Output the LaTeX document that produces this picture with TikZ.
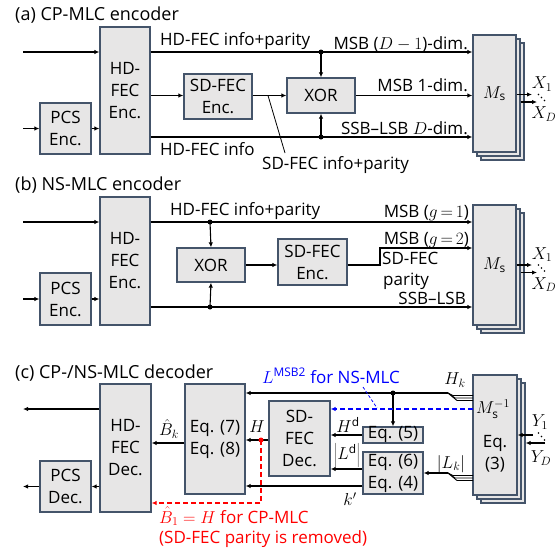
\documentclass[tikz,border=0pt]{standalone}
\usepackage{fontspec}
\setmainfont{Open Sans}
\usetikzlibrary{arrows.meta}
\definecolor{bbord}{RGB}{68,84,106}
\definecolor{bfill}{RGB}{231,230,230}
\definecolor{lblue}{RGB}{0,0,255}
\definecolor{lred}{RGB}{255,0,0}
\begin{document}
\begin{tikzpicture}[x=1pt,y=-1pt, font=\fontsize{17}{22}\selectfont,
 blk/.style={draw=bbord, fill=bfill, line width=1.3pt, align=center, inner sep=0pt},
 ln/.style={line width=1.1pt},
 arr/.style={ln, -{Latex[length=5pt,width=4.5pt]}},
 dsh/.style={dash pattern=on 5pt off 3pt},
 dot/.style={circle, fill, inner sep=0pt, minimum size=5pt},
 sdot/.style={circle, fill, inner sep=0pt, minimum size=1.6pt},
 lbl/.style={inner sep=0pt},
 ttl/.style={inner sep=0pt, anchor=base west, font=\fontsize{18}{22}\selectfont}
]
\useasboundingbox (0,0) rectangle (559,552);

% ---------------- (a) ----------------
\node[ttl] (tA) at (15,20) {(a) CP-MLC encoder};
\node[blk, minimum width=50pt, minimum height=127pt] (hdA) at (125,90.5) {HD-\\FEC\\Enc.};
\node[blk, minimum width=51pt, minimum height=51pt] (pcsA) at (65.5,128.5) {PCS\\Enc.};
\node[blk, minimum width=68pt, minimum height=45pt] (sdA) at (218,96.5) {SD-FEC\\Enc.};
\node[blk, minimum width=68pt, minimum height=35pt] (xorA) at (321,95.5) {XOR};
\node[blk, minimum width=43pt, minimum height=117pt] (msA3) at (502.5,101.5) {};
\node[blk, minimum width=43pt, minimum height=117pt] (msA2) at (498.5,97.5) {};
\node[blk, minimum width=43pt, minimum height=117pt] (msA) at (494.5,93.5) {$M_{\mathrm{s}}$};

\coordinate (inA1) at (23,52);
\coordinate (inA2) at (23,128.5);
\coordinate (jA1) at (321,52);
\coordinate (jA2) at (321,137);
\draw[arr] (inA1) -- (hdA.west |- inA1);
\draw[arr] (inA2) -- (pcsA.west);
\draw[arr] (pcsA.east) -- (hdA.west |- pcsA.east);
\draw[arr] (hdA.east |- jA1) -- (msA.west |- jA1);
\draw[arr] (hdA.east |- xorA) -- (sdA.west |- xorA);
\draw[arr] (sdA.east |- xorA) -- (xorA.west);
\draw[arr] (xorA.east) -- (msA.west |- xorA);
\draw[arr] (hdA.east |- jA2) -- (msA.west |- jA2);
\draw[arr] (jA1) -- (xorA.north);
\draw[arr] (jA2) -- (xorA.south);
\node[dot] (dA1) at (jA1) {};
\node[dot] (dA2) at (jA2) {};
\coordinate (lA1) at (268,95.5);
\coordinate (lA2) at (285,153);
\draw[line width=0.8pt] (lA1) -- (lA2);

\node[lbl, anchor=base west] (tA1) at (160,45) {HD-FEC info+parity};
\node[lbl, anchor=base west] (tA2) at (160,155) {HD-FEC info};
\node[lbl, anchor=base west] (tA3) at (262,169) {SD-FEC info+parity};
\node[lbl, anchor=base east] (tA4) at (468,49) {MSB ($D-1$)-dim.};
\node[lbl, anchor=base east] (tA5) at (468,91) {MSB 1-dim.};
\node[lbl, anchor=base east] (tA6) at (468,134) {SSB--LSB $D$-dim.};

\coordinate (xA1) at (532,94.5);
\coordinate (xAD) at (537,102);
\draw[arr] (msA.east |- xA1) -- (xA1);
\draw[arr] (msA2.east |- xAD) -- (xAD);
\node[lbl] (XA1) at (542,84) {$X_1$};
\node[lbl] (XAD) at (544,114) {$X_D$};
\node[sdot] (sA1) at (538.5,94.5) {};
\node[sdot] (sA2) at (541.5,97.5) {};
\node[sdot] (sA3) at (544.5,100.5) {};

% ---------------- (b) ----------------
\node[ttl] (tB) at (15,190) {(b) NS-MLC encoder};
\node[blk, minimum width=50pt, minimum height=128pt] (hdB) at (125,261) {HD-\\FEC\\Enc.};
\node[blk, minimum width=51pt, minimum height=52pt] (pcsB) at (65.5,299) {PCS\\Enc.};
\node[blk, minimum width=68pt, minimum height=34pt] (xorB) at (211,265) {XOR};
\node[blk, minimum width=69pt, minimum height=46pt] (sdB) at (312.5,262) {SD-FEC\\Enc.};
\node[blk, minimum width=43pt, minimum height=120pt] (msB3) at (502.5,273) {};
\node[blk, minimum width=43pt, minimum height=120pt] (msB2) at (498.5,269) {};
\node[blk, minimum width=43pt, minimum height=120pt] (msB) at (494.5,265) {$M_{\mathrm{s}}$};

\coordinate (inB1) at (23,222);
\coordinate (inB2) at (23,299);
\coordinate (jB1) at (210,222);
\coordinate (jB2) at (210,307);
\coordinate (kB1) at (380,265);
\coordinate (kB2) at (380,248);
\draw[arr] (inB1) -- (hdB.west |- inB1);
\draw[arr] (inB2) -- (pcsB.west);
\draw[arr] (pcsB.east) -- (hdB.west |- pcsB.east);
\draw[arr] (hdB.east |- jB1) -- (msB.west |- jB1);
\draw[arr] (hdB.east |- jB2) -- (msB.west |- jB2);
\draw[arr] (jB1) -- (xorB.north);
\draw[arr] (jB2) -- (xorB.south);
\draw[arr] (xorB.east) -- (sdB.west |- xorB.east);
\draw[arr] (sdB.east |- kB1) -- (kB1) -- (kB2) -- (msB.west |- kB2);
\node[dot] (dB1) at (jB1) {};
\node[dot] (dB2) at (jB2) {};

\node[lbl, anchor=base west] (tB1) at (170,215) {HD-FEC info+parity};
\node[lbl, anchor=base east] (tB2) at (469,217) {MSB ($g\,{=}\,1$)};
\node[lbl, anchor=base east] (tB3) at (469,244) {MSB ($g\,{=}\,2$)};
\node[lbl, anchor=base west] (tB4) at (382,264) {SD-FEC};
\node[lbl, anchor=base west] (tB5) at (383,285) {parity};
\node[lbl, anchor=base east] (tB6) at (466,304) {SSB--LSB};

\coordinate (xB1) at (532,265);
\coordinate (xBD) at (537,272.5);
\draw[arr] (msB.east |- xB1) -- (xB1);
\draw[arr] (msB2.east |- xBD) -- (xBD);
\node[lbl] (XB1) at (542,254.5) {$X_1$};
\node[lbl] (XBD) at (544,284.5) {$X_D$};
\node[sdot] (sB1) at (538.5,265) {};
\node[sdot] (sB2) at (541.5,268) {};
\node[sdot] (sB3) at (544.5,271) {};

% ---------------- (c) ----------------
\node[ttl] (tC) at (15,378) {(c) CP-/NS-MLC decoder};
\node[blk, minimum width=51pt, minimum height=128pt] (hdC) at (125.5,448) {HD-\\FEC\\Dec.};
\node[blk, minimum width=51pt, minimum height=51pt] (pcsC) at (65.5,486.5) {PCS\\Dec.};
\node[blk, minimum width=60pt, minimum height=110pt] (eq78) at (215,439) {Eq. (7)\\Eq. (8)};
\node[blk, minimum width=61pt, minimum height=75pt] (sdC) at (299.5,438.5) {SD-\\FEC\\Dec.};
\node[blk, minimum width=60pt, minimum height=16pt, text height=9pt, text depth=2pt] (eq5) at (393,435) {Eq. (5)};
\node[blk, minimum width=60pt, minimum height=42pt] (eq64) at (393,473) {Eq. (6)\\Eq. (4)};
\node[blk, minimum width=44pt, minimum height=120pt] (msC3) at (503,443) {};
\node[blk, minimum width=44pt, minimum height=120pt] (msC2) at (499,439) {};
\node[blk, minimum width=44pt, minimum height=120pt] (msC) at (495,435) {};
\node[lbl] (msCt) at (493,409) {$M_{\mathrm{s}}^{-1}$};
\node[lbl, align=center] (msCe) at (495,454) {Eq.\\(3)};

\coordinate (oC1) at (23,409);
\coordinate (oC2) at (23,486.5);
\draw[arr] (hdC.west |- oC1) -- (oC1);
\draw[arr] (pcsC.west) -- (oC2);
\draw[arr] (hdC.west |- pcsC.west) -- (pcsC.east);
\coordinate (cB1) at (200,443);
\draw[arr] (eq78.west |- cB1) -- (hdC.east |- cB1);
\node[lbl] (tBk) at (169,429) {$\hat{B}_k$};

\coordinate (bC1) at (448,393);
\coordinate (bC2) at (448,473);
\coordinate (jC1) at (393,393);
\draw[arr] (bC1) -- (eq78.east |- bC1);
\draw[arr] (jC1) -- (eq5.north);
\node[dot] (dC1) at (jC1) {};
\draw[line width=0.9pt] (bC1) -- ++(5,2.5) -- ++(20,0);
\draw[line width=0.9pt] (bC1) -- ++(7,5) -- ++(18,0);
\draw[line width=0.9pt] (bC1) -- ++(9,7.5) -- ++(16,0);
\draw[arr] (bC2) -- (eq64.east |- bC2);
\draw[line width=0.9pt] (bC2) -- ++(5,2.5) -- ++(20,0);
\draw[line width=0.9pt] (bC2) -- ++(7,5) -- ++(18,0);
\draw[line width=0.9pt] (bC2) -- ++(9,7.5) -- ++(16,0);
\node[lbl] (tHk) at (455,380) {$H_k$};
\node[lbl] (tLk) at (451,464) {$|L_k|$};

\draw[arr] (eq5.west) -- (sdC.east |- eq5.west);
\node[lbl] (tHd) at (348,425) {$H^{\mathrm{d}}$};
\coordinate (cL) at (363,469);
\draw[arr] (eq64.west |- cL) -- (sdC.east |- cL);
\node[lbl] (tLd) at (347,455) {$\left|L^{\mathrm{d}}\right|$};
\coordinate (cK) at (363,486);
\draw[arr] (eq64.west |- cK) -- (eq78.east |- cK);
\node[lbl] (tK) at (350,499) {$k'$};

\coordinate (cH) at (261,440);
\draw[arr] (sdC.west |- cH) -- (eq78.east |- cH);
\node[lbl] (tH) at (257,427) {$H$};
\coordinate (rC) at (261,503);
\draw[ln, dsh, lred, -{Latex[length=5pt,width=4.5pt]}] (cH) -- (rC) -- (hdC.east |- rC);
\node[dot, lred] (dH) at (cH) {};
\node[lbl, anchor=base west, text=lred] (tR1) at (159,523) {$\hat{B}_1=H$ for CP-MLC};
\node[lbl, anchor=base west, text=lred] (tR2) at (159,543) {(SD-FEC parity is removed)};

\coordinate (cB) at (473,409);
\draw[ln, dsh, lblue, -{Latex[length=5pt,width=4.5pt]}] (cB) -- (sdC.east |- cB);
\node[lbl, anchor=base, text=lblue] (tBl) at (331,383) {$L^{\mathrm{MSB2}}$ for NS-MLC};
\coordinate (lB1) at (363,387);
\coordinate (lB2) at (377,408);
\draw[lblue, dash pattern=on 3pt off 2pt, line width=0.8pt] (lB1) -- (lB2);

\coordinate (yC1) at (533,435);
\coordinate (yCD) at (545,443);
\draw[arr] (yC1) -- (msC.east |- yC1);
\draw[arr] (yCD) -- (msC3.east |- yCD);
\node[lbl] (YC1) at (540,422) {$Y_1$};
\node[lbl] (YCD) at (541,458) {$Y_D$};
\node[sdot] (sC1) at (538.5,433) {};
\node[sdot] (sC2) at (541.5,436.5) {};
\node[sdot] (sC3) at (544.5,440) {};
\end{tikzpicture}
\end{document}
